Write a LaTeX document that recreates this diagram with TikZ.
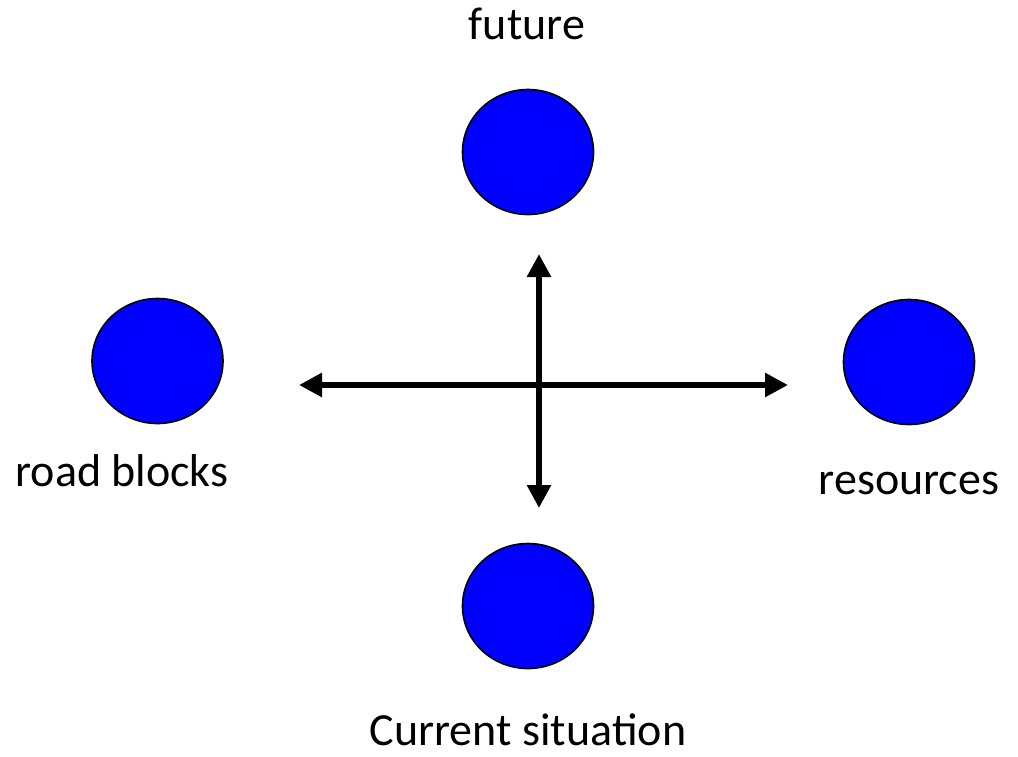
\documentclass[tikz,border=0pt]{standalone}
\usepackage{fontspec}
\setmainfont{Carlito}
\usetikzlibrary{arrows.meta,shapes.geometric}
\begin{document}
\begin{tikzpicture}[x=1pt,y=-1pt,
  blob/.style={ellipse,draw=black,line width=1.6pt,fill=blue,minimum width=131pt,minimum height=125pt,inner sep=0pt},
  lbl/.style={anchor=base,inner sep=0pt,font=\fontsize{46}{55}\selectfont},
  dbl/.style={line width=6pt,{Triangle[length=23pt,width=23pt]}-{Triangle[length=23pt,width=23pt]}}]
\useasboundingbox (0,0) rectangle (1018,756);
\node[blob] (top) at (528,152) {};
\node[blob] (left) at (157.5,361) {};
\node[blob] (right) at (909,362) {};
\node[blob] (bottom) at (528,606) {};
\node[lbl] (tfuture) at (527,39) {future};
\node[lbl] (troad) at (122,486) {road blocks};
\node[lbl] (tres) at (909,494) {resources};
\node[lbl] (tcur) at (528,745) {Current situation};
\coordinate (hl) at (299,385);
\coordinate (hr) at (788,385);
\coordinate (vt) at (539,254);
\coordinate (vb) at (539,508);
\draw[dbl] (hl) -- (hr);
\draw[dbl] (vt) -- (vb);
\end{tikzpicture}
\end{document}
